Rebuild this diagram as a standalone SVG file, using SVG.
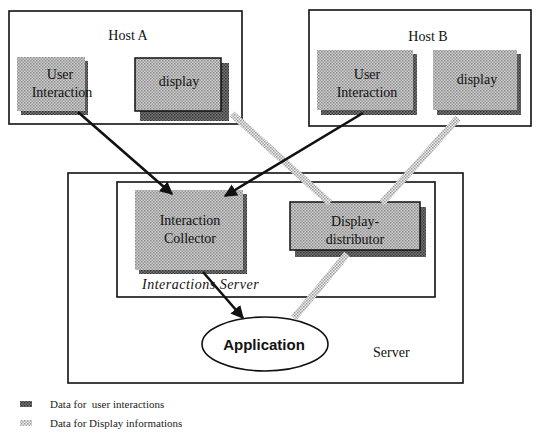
<svg xmlns="http://www.w3.org/2000/svg" width="539" height="443" viewBox="0 0 539 443">
<style>
.frame{fill:none;stroke:#111;stroke-width:1.6}
.t{font-family:"Liberation Serif",serif;font-size:14px;fill:#111;text-anchor:middle}
.lbl{font-family:"Liberation Serif",serif;font-size:14px;fill:#111}
.legend{font-family:"Liberation Serif",serif;font-size:11px;fill:#222}
.dark{stroke:#111;stroke-width:2.6;fill:none}
.gray{stroke:url(#dots);stroke-width:7;fill:none}
.box{fill:url(#halftone)}
.shadow{fill:url(#darktone)}
</style>
<defs>
<pattern id="halftone" width="3" height="3" patternUnits="userSpaceOnUse">
<rect width="3" height="3" fill="#cfcfcf"/>
<rect width="1.5" height="1.5" fill="#8a8a8a"/>
<rect x="1.5" y="1.5" width="1.5" height="1.5" fill="#9a9a9a"/>
</pattern>
<pattern id="darktone" width="3" height="3" patternUnits="userSpaceOnUse">
<rect width="3" height="3" fill="#777"/>
<rect width="1.5" height="1.5" fill="#333"/>
<rect x="1.5" y="1.5" width="1.5" height="1.5" fill="#444"/>
</pattern>
<pattern id="dots" width="3" height="3" patternUnits="userSpaceOnUse">
<rect width="3" height="3" fill="#eee"/>
<rect width="1.5" height="1.5" fill="#999"/>
<rect x="1.5" y="1.5" width="1.5" height="1.5" fill="#aaa"/>
</pattern>
<marker id="ah" viewBox="0 0 10 10" refX="9" refY="5" markerWidth="5" markerHeight="5" orient="auto" markerUnits="strokeWidth">
<path d="M0,0 L10,5 L0,10 z" fill="#111"/>
</marker>
</defs>
<rect width="539" height="443" fill="#fff"/>

<g id="hostA">
<rect class="frame" x="9" y="11" width="233" height="113"/>
<text class="t" x="128" y="40">Host A</text>
</g>
<g id="hostB">
<rect class="frame" x="309" y="10" width="222" height="116"/>
<text class="t" x="428" y="41">Host B</text>
</g>
<g id="server">
<rect class="frame" x="68" y="173" width="395" height="210"/>
<text class="lbl" x="373" y="357">Server</text>
</g>
<g id="interactionsServer">
<rect class="frame" x="117" y="182" width="318" height="115"/>
<text class="lbl" x="142" y="289" font-style="italic" font-size="16" letter-spacing="0.5">Interactions Server</text>
</g>

<g id="userInteractionA">
<rect class="shadow" x="21" y="61" width="67" height="54"/>
<rect class="box" x="17" y="57" width="68" height="54"/>
<text class="t" x="60" y="79">User</text>
<text class="t" x="62" y="97">Interaction</text>
</g>
<g id="displayA">
<rect class="shadow" x="140" y="63" width="89" height="58"/>
<rect class="box" x="135" y="58" width="86" height="53" stroke="#111" stroke-width="1.5"/>
<text class="t" x="179" y="86">display</text>
</g>
<g id="userInteractionB">
<rect class="shadow" x="321" y="54" width="96" height="61"/>
<rect class="box" x="317" y="50" width="96" height="60"/>
<text class="t" x="367" y="79">User</text>
<text class="t" x="367" y="97">Interaction</text>
</g>
<g id="displayB">
<rect class="shadow" x="437" y="54" width="84" height="61"/>
<rect class="box" x="433" y="50" width="84" height="60"/>
<text class="t" x="477" y="84">display</text>
</g>
<g id="interactionCollector">
<rect class="shadow" x="139" y="194" width="108" height="80"/>
<rect class="box" x="135" y="190" width="108" height="80"/>
<text class="t" x="190" y="225">Interaction</text>
<text class="t" x="190" y="243">Collector</text>
</g>
<g id="displayDistributor">
<rect class="shadow" x="295" y="207" width="131" height="50"/>
<rect class="box" x="290" y="202" width="130" height="48" stroke="#111" stroke-width="1.5"/>
<text class="t" x="355" y="226">Display-</text>
<text class="t" x="355" y="244">distributor</text>
</g>
<g id="application">
<ellipse cx="265" cy="344" rx="63" ry="27" fill="#fff" stroke="#111" stroke-width="1.6"/>
<text x="264" y="350" text-anchor="middle" font-family="Liberation Sans, sans-serif" font-weight="bold" font-size="15" fill="#111">Application</text>
</g>

<g id="connectors">
<path class="gray" d="M294,318 L347,254"/>
<path class="gray" d="M232,114 L330,203"/>
<path class="gray" d="M458,118 L382,203"/>
<path class="dark" d="M78,112 L172,194" marker-end="url(#ah)"/>
<path class="dark" d="M363,113 L225,196" marker-end="url(#ah)"/>
<path class="dark" d="M203,272 L243,318" marker-end="url(#ah)"/>
</g>

<g id="legend">
<rect x="20" y="401" width="12" height="6" fill="url(#darktone)"/>
<text class="legend" x="50" y="408">Data for&#160; user interactions</text>
<rect x="20" y="420" width="12" height="6" fill="url(#dots)"/>
<text class="legend" x="50" y="427">Data for Display informations</text>
</g>
</svg>
